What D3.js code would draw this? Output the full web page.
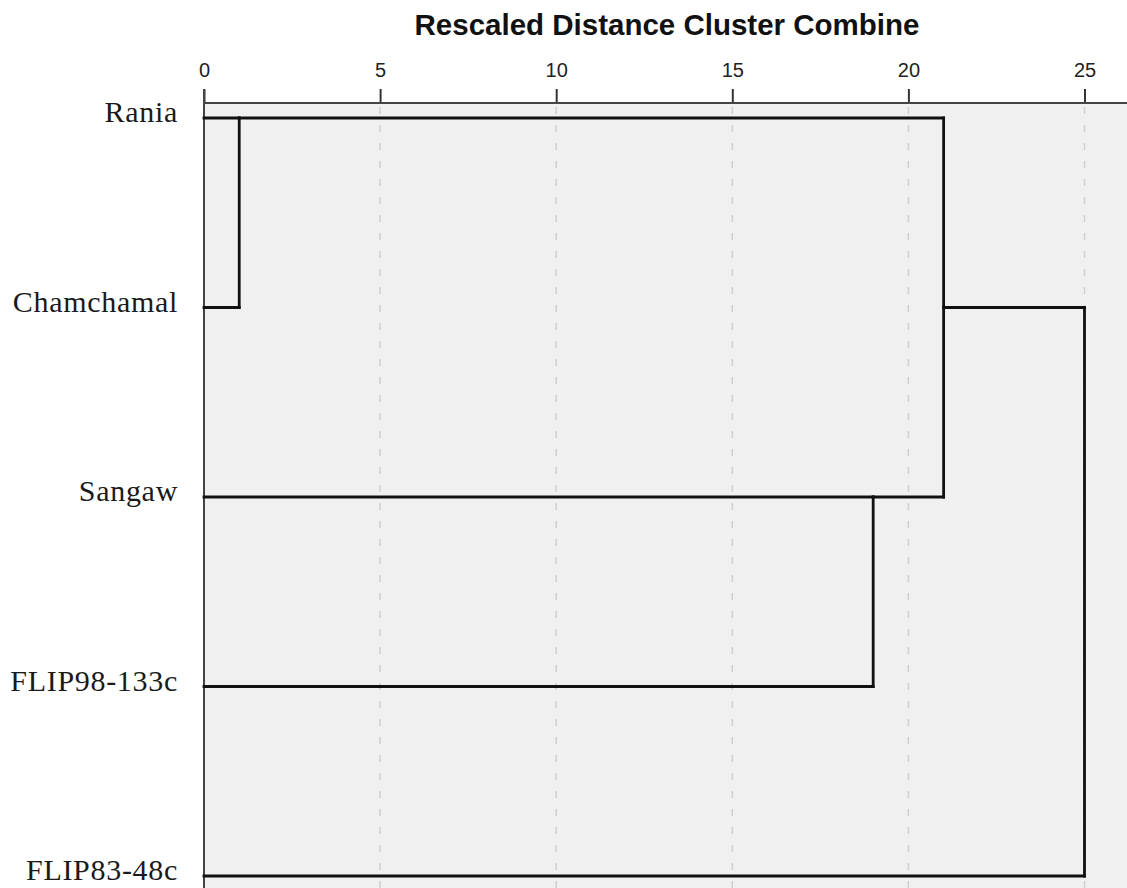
<!DOCTYPE html>
<html>
<head>
<meta charset="utf-8">
<script src="https://cdn.jsdelivr.net/npm/d3@7"></script>
<style>
  body { margin: 0; background: #fff; }
  #dendro text { font-family: "Liberation Sans", Arial, sans-serif; }
</style>
</head>
<body>
<div id="dendro"></div>
<script>
// Dados do dendrograma //
const leaves = ["Rania", "Chamchamal", "Sangaw", "FLIP98-133c", "FLIP83-48c"]
// ids 0-4 = folhas, 5.. = grupos formados na ordem das fusões
const mergeA = [0, 2, 5, 7]
const mergeB = [1, 3, 6, 4]
const mergeDist = [1, 19, 21, 25]
// linha (indice da folha) onde o novo grupo sai da fusão
const mergeRow = [0, 2, 1, 1]
const ticks = [0, 5, 10, 15, 20, 25]
const title = "Rescaled Distance Cluster Combine"

var dendrogram = {
  // Renderiza o gráfico //
  render: function(node){
    const width = 1127
    const height = 888
    const left = 204, top = 103

    const svg = d3.select(node).append("svg")
        .attr("width", width)
        .attr("height", height)

    const x = d3.scaleLinear().domain([0, 25]).range([left, 1084.5])
    const y = d3.scalePoint().domain(d3.range(leaves.length)).range([118, 876])

    // fundo cinza
    svg.append("rect")
        .attr("x", left).attr("y", top)
        .attr("width", width - left).attr("height", height - top)
        .attr("fill", "#f0f0f0")

    // grade tracejada
    svg.append("g").selectAll("line")
        .data(ticks.filter(t => t > 0))
        .enter().append("line")
        .attr("x1", d => x(d)).attr("x2", d => x(d))
        .attr("y1", top).attr("y2", height)
        .attr("stroke", "#cfcfcf")
        .attr("stroke-width", 1.5)
        .attr("stroke-dasharray", "7,11")
        .attr("stroke-dashoffset", -4)

    // eixo superior
    const axis = svg.append("g")
        .attr("transform", "translate(0," + top + ")")
        .call(d3.axisTop(x).tickValues(ticks).tickSize(14).tickPadding(12).tickSizeOuter(0))
    axis.select(".domain").remove()
    axis.selectAll(".tick line").attr("stroke", "#333").attr("stroke-width", 2)
    axis.selectAll(".tick text")
        .attr("fill", "#222")
        .style("font-size", "20px")
        .style("font-family", "'Liberation Sans', Arial, sans-serif")

    // bordas
    svg.append("line")
        .attr("x1", left).attr("x2", width).attr("y1", top).attr("y2", top)
        .attr("stroke", "#444").attr("stroke-width", 2)
    svg.append("line")
        .attr("x1", left).attr("x2", left).attr("y1", top - 14).attr("y2", height)
        .attr("stroke", "#444").attr("stroke-width", 2)

    // título
    svg.append("text")
        .attr("x", 667).attr("y", 35)
        .attr("text-anchor", "middle")
        .style("font-size", "29.5px")
        .style("font-weight", "bold")
        .attr("fill", "#111")
        .text(title)

    // rótulos das folhas
    svg.append("g").selectAll("text")
        .data(leaves)
        .enter().append("text")
        .attr("x", 178)
        .attr("y", (d, i) => y(i) + 4)
        .attr("text-anchor", "end")
        .style("font-family", "'Liberation Serif', 'Times New Roman', serif")
        .style("font-size", "30px")
        .style("letter-spacing", "0.7px")
        .attr("fill", "#1a1a1a")
        .text(d => d)

    // monta os nós e os segmentos
    const nodes = leaves.map((d, i) => ({ dist: 0, row: i }))
    const segs = []
    mergeDist.forEach((d, k) => {
      const a = nodes[mergeA[k]], b = nodes[mergeB[k]]
      segs.push([x(a.dist), y(a.row), x(d), y(a.row)])
      segs.push([x(b.dist), y(b.row), x(d), y(b.row)])
      segs.push([x(d), y(a.row), x(d), y(b.row)])
      nodes.push({ dist: d, row: mergeRow[k] })
    })

    svg.append("g").selectAll("line")
        .data(segs)
        .enter().append("line")
        .attr("x1", d => d[0]).attr("y1", d => d[1])
        .attr("x2", d => d[2]).attr("y2", d => d[3])
        .attr("stroke", "#111")
        .attr("stroke-width", 2.8)
        .attr("stroke-linecap", "square")
  }
}

// Chama o Gráfico //
dendrogram.render("#dendro")
</script>
</body>
</html>
